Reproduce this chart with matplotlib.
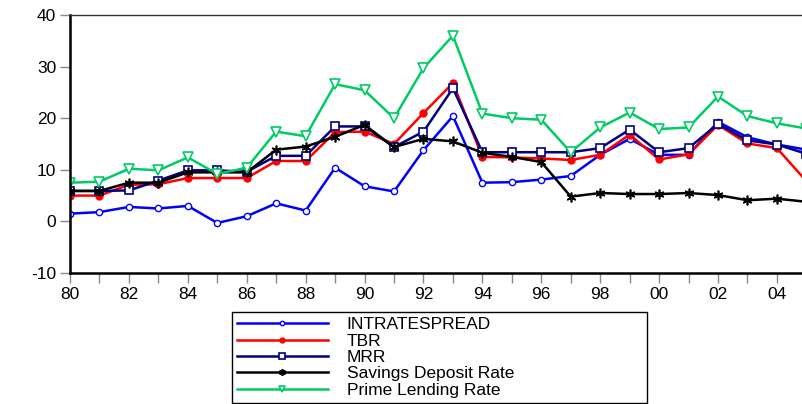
import matplotlib
matplotlib.use("Agg")
import matplotlib.pyplot as plt

plt.rcParams['font.family'] = ['Liberation Sans', 'DejaVu Sans']
plt.rcParams['axes.unicode_minus'] = False

# years 1980 - 2005
years = list(range(1980, 2006))

intratespread = [1.5, 1.8, 2.8, 2.5, 3.0, -0.3, 1.0, 3.5, 2.1, 10.4, 6.8, 5.8, 13.8,
                 20.4, 7.5, 7.6, 8.1, 8.8, 12.9, 16.0, 12.9, 12.9, 19.3, 16.3, 14.9, 13.9]
tbr = [5.0, 5.0, 7.1, 7.2, 8.4, 8.4, 8.4, 11.7, 11.7, 17.3, 17.4, 15.0, 21.0,
       26.8, 12.5, 12.4, 12.2, 11.9, 12.9, 16.8, 12.0, 13.0, 18.7, 15.1, 14.2, 7.8]
mrr = [5.9, 5.9, 6.0, 7.9, 9.9, 9.9, 9.6, 12.7, 12.7, 18.4, 18.4, 14.4, 17.4,
       25.8, 13.4, 13.4, 13.4, 13.4, 14.2, 17.8, 13.4, 14.2, 18.9, 15.7, 14.9, 13.1]
savings = [5.9, 5.9, 7.5, 7.5, 9.5, 9.5, 9.5, 13.9, 14.5, 16.4, 18.7, 14.4, 16.0,
           15.5, 13.3, 12.5, 11.5, 4.8, 5.5, 5.3, 5.3, 5.5, 5.1, 4.1, 4.4, 3.8]
prime = [7.5, 7.7, 10.2, 9.9, 12.4, 9.2, 10.4, 17.4, 16.5, 26.6, 25.4, 20.0, 29.7,
         36.0, 20.9, 20.0, 19.7, 13.4, 18.2, 21.1, 17.9, 18.2, 24.2, 20.4, 19.0, 18.0]

xtick_pos = list(range(1980, 2005, 2))
xtick_labels = ['80', '82', '84', '86', '88', '90', '92', '94', '96', '98', '00', '02', '04']

fig = plt.figure(figsize=(8.03, 4.04), dpi=100)
ax = fig.add_axes([0.0872, 0.3243, 0.917, 0.6386])

ax.plot(years, intratespread, color='#0000ff', lw=1.8, marker='o', ms=4.5,
        mfc='white', mec='#0000ff', mew=1.0, label='INTRATESPREAD')
ax.plot(years, tbr, color='#ff0000', lw=1.8, marker='o', ms=5,
        mfc='#ff0000', mec='#ff0000', label='TBR')
ax.plot(years, mrr, color='#000080', lw=1.8, marker='s', ms=5.5,
        mfc='white', mec='#000080', mew=1.2, label='MRR')
ax.plot(years, savings, color='black', lw=1.8, marker=(6, 2, 0), ms=7,
        mew=1.2, label='Savings Deposit Rate')
ax.plot(years, prime, color='#00cc66', lw=1.8, marker='v', ms=6.5,
        mfc='white', mec='#00cc66', mew=1.2, label='Prime Lending Rate')

ax.set_xlim(1980, 2005)
ax.set_ylim(-10, 40)
ax.set_yticks([-10, 0, 10, 20, 30, 40])
ax.set_xticks(xtick_pos)
ax.set_xticklabels(xtick_labels)
ax.set_xticks(range(1981, 2006, 2), minor=True)

for s in ['left', 'bottom']:
    ax.spines[s].set_linewidth(1.8)
    ax.spines[s].set_color('black')
ax.spines['top'].set_linewidth(1.0)
ax.spines['top'].set_color('#333333')
ax.spines['right'].set_visible(False)

ax.tick_params(axis='both', which='both', direction='out', length=7,
               width=1.0, color='#888888', labelsize=12.5, pad=3)

fig.legend(loc='lower left', bbox_to_anchor=(0.289, 0.0025, 0.517, 0.225),
           mode='expand', fontsize=12.5, frameon=True, fancybox=False,
           edgecolor='black', framealpha=1, handlelength=5.2, labelspacing=0.07,
           borderpad=0.3, handletextpad=1.1, borderaxespad=0.0, markerscale=0.7)

fig.savefig('out.png', dpi=100)
